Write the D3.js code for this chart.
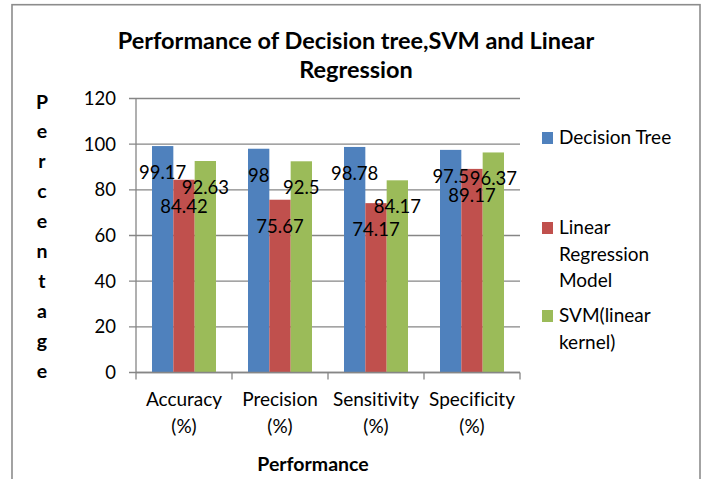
<!DOCTYPE html>
<html>
<head>
<meta charset="utf-8">
<script src="https://cdn.jsdelivr.net/npm/d3@7"></script>
<style>
  body { margin: 0; background: #fff; }
  text { font-family: Lato, "Open Sans", sans-serif; fill: #000; font-variant-ligatures: none; }
</style>
</head>
<body>
<svg width="706" height="479"></svg>
<script>
const categories = [["Accuracy", "(%)"], ["Precision", "(%)"], ["Sensitivity", "(%)"], ["Specificity", "(%)"]]
const series = ["Decision Tree", "Linear Regression Model", "SVM(linear kernel)"]
const decisionTree = [99.17, 98, 98.78, 97.5]
const linearRegression = [84.42, 75.67, 74.17, 89.17]
const svmLinear = [92.63, 92.5, 84.17, 96.37]
const yTicks = [0, 20, 40, 60, 80, 100, 120]
const legendLines = [["Decision Tree"], ["Linear", "Regression", "Model"], ["SVM(linear", "kernel)"]]
const colors = ["#4f81bd", "#c0504d", "#9bbb59"]
const values = [decisionTree, linearRegression, svmLinear]

const gridColor = "#868686"
const numSize = 18.5
const wordSize = 19

const svg = d3.select("svg")

// outer chart border (bottom runs off the page)
svg.append("rect")
    .attr("x", 12)
    .attr("y", 4.7)
    .attr("width", 688)
    .attr("height", 520)
    .attr("fill", "#fff")
    .attr("stroke", "#8c8c8c")
    .attr("stroke-width", 1.6)

const x = d3.scaleBand()
    .domain(categories.map(c => c[0]))
    .range([136, 520])

const xSub = d3.scaleBand()
    .domain(series)
    .range([x.bandwidth() / 6, x.bandwidth() * 5 / 6])

const y = d3.scaleLinear()
    .domain([0, 120])
    .range([372.5, 98.5])

// gridlines
svg.append("g")
    .selectAll("line")
    .data(yTicks)
    .join("line")
    .attr("x1", 129)
    .attr("x2", 520)
    .attr("y1", d => y(d))
    .attr("y2", d => y(d))
    .attr("stroke", gridColor)
    .attr("stroke-width", 1.3)

// y axis line
svg.append("line")
    .attr("x1", 136).attr("x2", 136)
    .attr("y1", y(120)).attr("y2", y(0))
    .attr("stroke", gridColor)
    .attr("stroke-width", 1.3)

// y tick labels
svg.append("g")
    .selectAll("text")
    .data(yTicks)
    .join("text")
    .attr("x", 116)
    .attr("y", d => y(d) + 6.5)
    .attr("text-anchor", "end")
    .attr("font-size", numSize)
    .text(d => d)

// bars
const rows = categories.map((c, i) => ({cat: c[0], vals: values.map((v, s) => ({s: series[s], v: v[i], c: colors[s]}))}))

const groups = svg.append("g")
    .selectAll("g")
    .data(rows)
    .join("g")
    .attr("transform", d => `translate(${x(d.cat)},0)`)

groups.selectAll("rect")
    .data(d => d.vals)
    .join("rect")
    .attr("x", d => xSub(d.s))
    .attr("width", xSub.bandwidth())
    .attr("y", d => y(d.v))
    .attr("height", d => y(0) - y(d.v))
    .attr("fill", d => d.c)

// x axis
svg.append("line")
    .attr("x1", 136).attr("x2", 520)
    .attr("y1", y(0)).attr("y2", y(0))
    .attr("stroke", gridColor)
    .attr("stroke-width", 1.3)

svg.append("g")
    .selectAll("line")
    .data(d3.range(categories.length + 1))
    .join("line")
    .attr("x1", i => 136 + i * x.bandwidth())
    .attr("x2", i => 136 + i * x.bandwidth())
    .attr("y1", y(0))
    .attr("y2", y(0) + 7)
    .attr("stroke", gridColor)
    .attr("stroke-width", 1.3)

// data labels
groups.selectAll("text")
    .data(d => d.vals)
    .join("text")
    .attr("x", d => xSub(d.s) + xSub.bandwidth() / 2)
    .attr("y", d => y(d.v) + 33)
    .attr("text-anchor", "middle")
    .attr("font-size", numSize)
    .text(d => d.v)

// category labels
const catLabels = svg.append("g")
    .selectAll("text")
    .data(categories)
    .join("text")
    .attr("text-anchor", "middle")
    .attr("font-size", wordSize)

catLabels.selectAll("tspan")
    .data(d => d.map(t => ({t, cat: d[0]})))
    .join("tspan")
    .attr("x", d => x(d.cat) + x.bandwidth() / 2)
    .attr("y", (d, i) => 406 + i * 26.5)
    .text(d => d.t)

// axis titles
svg.append("text")
    .attr("x", 313)
    .attr("y", 471)
    .attr("text-anchor", "middle")
    .attr("font-size", 19.5)
    .attr("font-weight", "bold")
    .text("Performance")

svg.append("g")
    .selectAll("text")
    .data("Percentage".split(""))
    .join("text")
    .attr("x", 42)
    .attr("y", (d, i) => 108.5 + i * 29.9)
    .attr("text-anchor", "middle")
    .attr("font-size", 19.5)
    .attr("font-weight", "bold")
    .text(d => d)

// chart title
svg.append("g")
    .selectAll("text")
    .data(["Performance of Decision tree,SVM and Linear", "Regression"])
    .join("text")
    .attr("x", 356)
    .attr("y", (d, i) => 49 + i * 29)
    .attr("text-anchor", "middle")
    .attr("font-size", 23.5)
    .attr("font-weight", "bold")
    .text(d => d)

// legend
const legendTop = [144, 234, 322]
const legend = svg.append("g")
    .selectAll("g")
    .data(series)
    .join("g")

legend.append("rect")
    .attr("x", 542)
    .attr("y", (d, i) => legendTop[i] - 12)
    .attr("width", 11)
    .attr("height", 12)
    .attr("fill", (d, i) => colors[i])

legend.append("text")
    .attr("font-size", wordSize)
    .selectAll("tspan")
    .data((d, i) => legendLines[i].map((t, j) => ({t, y: legendTop[i] + j * 26.5})))
    .join("tspan")
    .attr("x", 559)
    .attr("y", d => d.y)
    .text(d => d.t)
</script>
</body>
</html>
